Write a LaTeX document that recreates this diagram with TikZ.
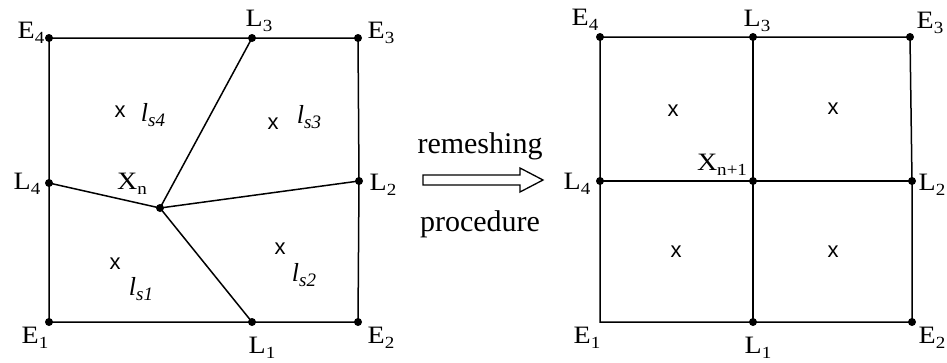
\documentclass[tikz,border=0pt]{standalone}
\usepackage{fontspec}
\setmainfont{Liberation Serif}
\newfontfamily\xsans{Liberation Sans}
\newcommand\lab[2]{\scalebox{1.12}[1]{#1\raisebox{-0.2em}{\fontsize{17}{17}\selectfont #2}}}
\newcommand\ilab[1]{{\itshape l\raisebox{-0.22em}{\fontsize{19}{19}\selectfont #1}}}
\tikzset{
  dot/.style={circle,fill=black,inner sep=0pt,minimum size=8pt},
  edge/.style={line width=1.5pt,black},
  lbl/.style={inner sep=0pt,font=\fontsize{25}{28}\selectfont},
  xm/.style={inner sep=0pt,font=\xsans\fontsize{22}{24}\selectfont},
  il/.style={inner sep=0pt,font=\fontsize{26}{28}\selectfont},
  txt/.style={inner sep=0pt,font=\fontsize{30}{34}\selectfont},
}
\begin{document}
\begin{tikzpicture}[x=1pt,y=-1pt]
\useasboundingbox (0,0) rectangle (947,362);
% ---------- left panel ----------
\node[dot] (aE4) at (49,38) {};
\node[dot] (aL3) at (252,38) {};
\node[dot] (aE3) at (358,38) {};
\node[dot] (aL4) at (49,183) {};
\node[dot] (aL2) at (359,181) {};
\node[dot] (aX) at (160,208) {};
\node[dot] (aE1) at (49,322) {};
\node[dot] (aL1) at (252,322) {};
\node[dot] (aE2) at (358,322) {};
\draw[edge] (aE4.center) -- (aL3.center) -- (aE3.center) -- (aL2.center) -- (aE2.center) -- (aL1.center) -- (aE1.center) -- (aL4.center) -- cycle;
\draw[edge] (aX.center) -- (aL4.center);
\draw[edge] (aX.center) -- (aL3.center);
\draw[edge] (aX.center) -- (aL2.center);
\draw[edge] (aX.center) -- (aL1.center);
\node[lbl] (taE4) at (31,33) {\lab{E}{4}};
\node[lbl] (taL3) at (259,21) {\lab{L}{3}};
\node[lbl] (taE3) at (381,33) {\lab{E}{3}};
\node[lbl] (taL4) at (27,184) {\lab{L}{4}};
\node[lbl] (taL2) at (383,185) {\lab{L}{2}};
\node[lbl] (taX) at (132,184) {\lab{X}{n}};
\node[lbl] (taE1) at (35,338) {\lab{E}{1}};
\node[lbl] (taL1) at (262,348) {\lab{L}{1}};
\node[lbl] (taE2) at (381,338) {\lab{E}{2}};
\node[xm] (ax4) at (120,112) {x};
\node[xm] (ax3) at (273,124) {x};
\node[xm] (ax1) at (115,264) {x};
\node[xm] (ax2) at (280,249) {x};
\node[il] (als4) at (153,115) {\ilab{s4}};
\node[il] (als3) at (309,117) {\ilab{s3}};
\node[il] (als1) at (141,289) {\ilab{s1}};
\node[il] (als2) at (304,275) {\ilab{s2}};
% ---------- middle ----------
\node[txt] (rem) at (480,146) {remeshing};
\node[txt] (proc) at (480,224) {procedure};
\draw[line width=1.3pt,line join=miter] (423,175) -- (520,175) -- (520,168) -- (543,180) -- (520,192) -- (520,185) -- (423,185) -- cycle;
% ---------- right panel ----------
\node[dot] (bE4) at (600,37) {};
\node[dot] (bL3) at (753,37) {};
\node[dot] (bE3) at (910,37) {};
\node[dot] (bL4) at (600,181) {};
\node[dot] (bX) at (753,181) {};
\node[dot] (bL2) at (912,181) {};
\coordinate (bE1) at (600,322);
\node[dot] (bL1) at (753,322) {};
\node[dot] (bE2) at (912,322) {};
\draw[edge] (bE4.center) -- (bL3.center) -- (bE3.center) -- (bL2.center) -- (bE2.center) -- (bL1.center) -- (bE1) -- (bL4.center) -- cycle;
\draw[edge] (bL3.center) -- (bX.center) -- (bL1.center);
\draw[edge] (bL4.center) -- (bX.center) -- (bL2.center);
\node[lbl] (tbE4) at (585,20) {\lab{E}{4}};
\node[lbl] (tbL3) at (757,21) {\lab{L}{3}};
\node[lbl] (tbE3) at (930,23) {\lab{E}{3}};
\node[lbl] (tbL4) at (577,184) {\lab{L}{4}};
\node[lbl] (tbX) at (722,165) {\lab{X}{n+1}};
\node[lbl] (tbL2) at (932,185) {\lab{L}{2}};
\node[lbl] (tbE1) at (587,338) {\lab{E}{1}};
\node[lbl] (tbL1) at (758,348) {\lab{L}{1}};
\node[lbl] (tbE2) at (932,338) {\lab{E}{2}};
\node[xm] (bx4) at (673,111) {x};
\node[xm] (bx3) at (833,109) {x};
\node[xm] (bx1) at (676,252) {x};
\node[xm] (bx2) at (833,252) {x};
\end{tikzpicture}
\end{document}
